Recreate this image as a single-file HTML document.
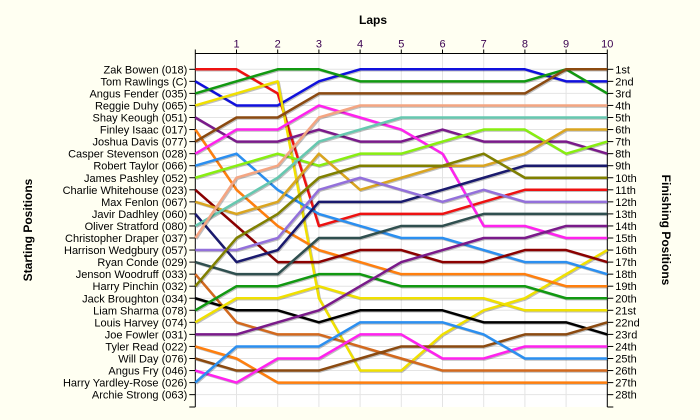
<!DOCTYPE html>
<html><head><meta charset="utf-8"><style>
body{margin:0;background:#fffff2;}
svg{display:block;font-family:"Liberation Sans",Arial,sans-serif;}
</style></head><body>
<svg id="c" width="700" height="420"></svg>
<script>
const names=["Zak Bowen (018)","Tom Rawlings (C)","Angus Fender (035)","Reggie Duhy (065)","Shay Keough (051)","Finley Isaac (017)","Joshua Davis (077)","Casper Stevenson (028)","Robert Taylor (066)","James Pashley (052)","Charlie Whitehouse (023)","Max Fenlon (067)","Javir Dadhley (060)","Oliver Stratford (080)","Christopher Draper (037)","Harrison Wedgbury (057)","Ryan Conde (029)","Jenson Woodruff (033)","Harry Pinchin (032)","Jack Broughton (034)","Liam Sharma (078)","Louis Harvey (074)","Joe Fowler (031)","Tyler Read (022)","Will Day (076)","Angus Fry (046)","Harry Yardley-Rose (026)","Archie Strong (063)"];
const finishLabels=["1st","2nd","3rd","4th","5th","6th","7th","8th","9th","10th","11th","12th","13th","14th","15th","16th","17th","18th","19th","20th","21st","22nd","23rd","24th","25th","26th","27th","28th"];
const laps=[1,2,3,4,5,6,7,8,9,10];
const colors=["#ee1111","#1010dd","#119911","#f0e000","#7a1a8a","#ff7f0e","#8b4a10","#ff22ee","#2b8ff0","#88ee11","#8b0000","#daa520","#1a1a6e","#66c8b0","#f4a582","#9370db","#2f4f4f","#d2691e","#808000","#000000","#119911","#f0e000","#7a1a8a","#ff7f0e","#8b4a10","#ff22ee","#2b8ff0","#ff7f0e"];
const p01=[1,1,3,14,13,13,13,12,11,11,11];
const p02=[2,4,4,2,1,1,1,1,1,2,2];
const p03=[3,2,1,1,2,2,2,2,2,1,3];
const p04=[4,3,2,20,26,26,23,21,20,18,16];
const p05=[5,7,7,6,7,7,6,7,7,7,8];
const p06=[6,11,14,16,17,18,18,18,18,19,19];
const p07=[7,5,5,3,3,3,3,3,3,1,1];
const p08=[8,6,6,4,5,6,8,14,14,15,15];
const p09=[9,8,11,13,14,15,15,16,17,17,18];
const p10=[10,9,8,9,8,8,7,6,6,8,7];
const p11=[11,14,17,17,16,16,17,17,16,16,17];
const p12=[12,13,12,8,11,10,9,9,8,6,6];
const p13=[13,17,16,12,12,12,11,10,9,9,9];
const p14=[14,12,10,7,6,5,5,5,5,5,5];
const p15=[15,10,9,5,4,4,4,4,4,4,4];
const p16=[16,16,15,11,10,11,12,11,12,12,12];
const p17=[17,18,18,15,15,14,14,13,13,13,13];
const p18=[18,22,23,23,24,25,26,26,26,26,26];
const p19=[19,15,13,10,9,9,9,8,10,10,10];
const p20=[20,21,21,22,21,21,21,22,22,22,23];
const p21=[21,19,19,18,18,19,19,19,19,20,20];
const p22=[22,20,20,19,20,20,20,20,21,21,21];
const p23=[23,23,22,21,19,17,16,15,15,14,14];
const p24=[24,25,27,27,27,27,27,27,27,27,27];
const p25=[25,26,26,26,25,24,24,24,23,23,22];
const p26=[26,27,25,25,23,23,25,25,24,24,24];
const p27=[27,24,24,24,22,22,22,23,25,25,25];
const series=[p01,p02,p03,p04,p05,p06,p07,p08,p09,p10,p11,p12,p13,p14,p15,p16,p17,p18,p19,p20,p21,p22,p23,p24,p25,p26,p27];

const NS="http://www.w3.org/2000/svg";
const svg=document.getElementById('c');
const X0=195.3,X1=607.3,Y0=53.5,Y1=407;
const x=l=>X0+(X1-X0)*l/10;
const y=r=>69.3+(r-1)*12.05;
function mk(t,a,parent){const e=document.createElementNS(NS,t);for(const k in a)e.setAttribute(k,a[k]);(parent||svg).appendChild(e);return e;}

let e=mk('rect',{x:X0,y:Y0,width:X1-X0,height:Y1-Y0,fill:'#ffffff'});


for(let r=1;r<=28;r++){mk('line',{x1:X0,x2:X1,y1:y(r),y2:y(r),stroke:'#e4e4e4','stroke-width':1});}
laps.forEach(l=>{mk('line',{x1:x(l),x2:x(l),y1:Y0,y2:Y1,stroke:'#e4e4e4','stroke-width':1});});

mk('line',{x1:X0,x2:X1,y1:Y0,y2:Y0,stroke:'#000'});
mk('line',{x1:X0,x2:X0,y1:Y0,y2:Y1,stroke:'#000'});
mk('line',{x1:X1,x2:X1,y1:Y0,y2:Y1,stroke:'#000'});
mk('line',{x1:X0-6,x2:X0,y1:Y1,y2:Y1,stroke:'#000'});
mk('line',{x1:X1,x2:X1+6,y1:Y1,y2:Y1,stroke:'#000'});
mk('line',{x1:X0,x2:X0,y1:Y0-4,y2:Y0,stroke:'#000'});
laps.forEach(l=>{
  mk('line',{x1:x(l),x2:x(l),y1:Y0-4,y2:Y0,stroke:'#000'});
  const t=mk('text',{x:x(l),y:Y0-6,'text-anchor':'middle','font-size':11,fill:'#3a0050'});
  t.textContent=l;
  
  
});
names.forEach((n,i)=>{
  mk('line',{x1:X0-6,x2:X0,y1:y(i+1),y2:y(i+1),stroke:'#000'});
  const t=mk('text',{x:X0-8,y:y(i+1)+4,'text-anchor':'end','font-size':11,fill:'#000'});
  t.textContent=n;
  
  
});
finishLabels.forEach((n,i)=>{
  mk('line',{x1:X1,x2:X1+6,y1:y(i+1),y2:y(i+1),stroke:'#000'});
  const t=mk('text',{x:X1+8,y:y(i+1)+4,'font-size':11,fill:'#000'});
  t.textContent=n;
  
  
});

series.forEach((s,i)=>{
  const pts=s.map((r,l)=>x(l)+','+y(r)).join(' ');
  const sh=mk('polyline',{points:pts,fill:'none',stroke:'rgba(0,0,0,0.25)','stroke-width':2.5,transform:'translate(1,1)','stroke-linejoin':'round'});
  
  
  const pl=mk('polyline',{points:pts,fill:'none',stroke:colors[i],'stroke-width':2.5,'stroke-linejoin':'round'});
  
  
});

let t=mk('text',{x:373,y:24,'text-anchor':'middle','font-size':12,'font-weight':'bold'});
t.textContent='Laps';


t=mk('text',{x:0,y:0,'text-anchor':'middle','font-size':12,'font-weight':'bold',transform:'translate(32,230) rotate(-90)'});
t.textContent='Starting Positions';


t=mk('text',{x:0,y:0,'text-anchor':'middle','font-size':12,'font-weight':'bold',transform:'translate(662,230) rotate(90)'});
t.textContent='Finishing Positions';


</script>
</body></html>
